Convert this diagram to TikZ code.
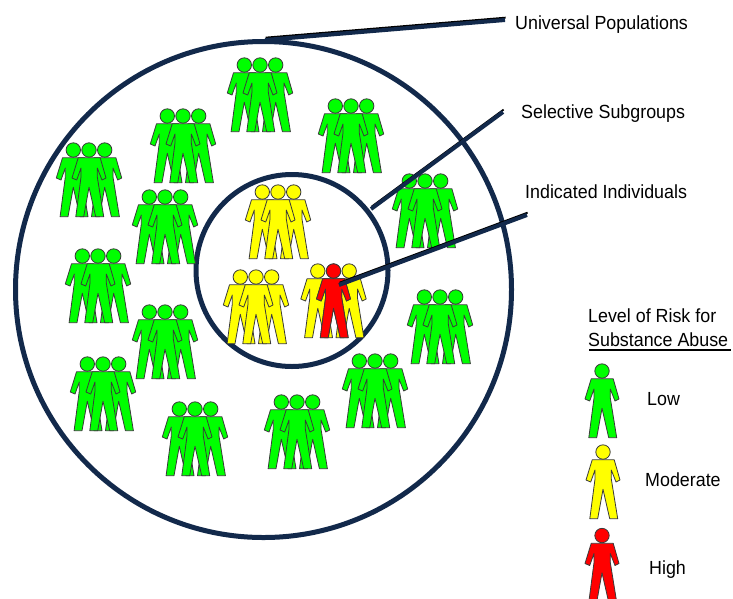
\documentclass[tikz,border=0pt]{standalone}
\usepackage{fontspec}
\setmainfont{Liberation Sans}
\newfontfamily\labelfamily[FakeStretch=0.94]{Liberation Sans}
\definecolor{navy}{HTML}{12294B}
\definecolor{riskgreen}{HTML}{00FF00}
\definecolor{riskyellow}{HTML}{FFFF00}
\definecolor{riskred}{HTML}{FF0000}
\definecolor{figline}{HTML}{3A3A3A}
\tikzset{
  person/.pic={
    \path[draw=figline,line width=0.8pt,fill=#1,line join=round]
      (-10.8,7.8) -- (-17,28) -- (-12.3,30) -- (-8,18) -- (-8,27) -- (-13.2,66.7)
      -- (-5.3,66.7) -- (0,37.3) -- (6.7,66.7) -- (14.7,66.7) -- (8.3,27) -- (8.3,18)
      -- (13,30) -- (17,28) -- (11.2,7.8) -- cycle;
    \path[draw=figline,line width=0.8pt,fill=#1] (0,0) circle[radius=7.2];
  },
  trio/.pic={
    \pic at (-15.7,0) {person=#1};
    \pic at (15.7,0) {person=#1};
    \pic at (0,0) {person=#1};
  },
  ring/.style={draw=navy,line width=5pt,circle,inner sep=0pt,outer sep=0pt},
  leader/.style={draw=navy,line width=4pt},
  leadershade/.style={draw=black,line width=1.8pt,transform canvas={shift={(0.6pt,2.4pt)}}},
  labeltext/.style={font=\labelfamily\fontsize{19}{22}\selectfont,text=black,inner sep=0pt,anchor=base west},
}
\begin{document}
\begin{tikzpicture}[x=1pt,y=-1pt]
\useasboundingbox (0,0) rectangle (733,598);
\node[ring,minimum size=496pt] (outer) at (263.5,289.5) {};
\node[ring,minimum size=192pt] (inner) at (292,270.5) {};
\foreach \px/\py in {260/65,183/116,351/106,425/181,89/150,165/197,98/256,165/312,103/364,195/409,297/402,375/361,440/297}
  \pic at (\px,\py) {trio=riskgreen};
\pic at (278,192) {trio=riskyellow};
\pic at (256,277) {trio=riskyellow};
\pic at (333.5,271) {trio=riskyellow};
\pic at (333.5,271) {person=riskred};
\coordinate (uA) at (265,40);
\coordinate (uB) at (505,20);
\coordinate (sA) at (371,209);
\coordinate (sB) at (503,112);
\coordinate (iA) at (339,285);
\coordinate (iB) at (527,215);
\draw[leadershade] (uA) -- (uB);
\draw[leadershade] (sA) -- (sB);
\draw[leadershade] (iA) -- (iB);
\draw[leader] (uA) -- (uB);
\draw[leader] (sA) -- (sB);
\draw[leader] (iA) -- (iB);
\node[labeltext] (universal) at (515,29) {Universal Populations};
\node[labeltext] (selective) at (521,118) {Selective Subgroups};
\node[labeltext] (indicated) at (525,198) {Indicated Individuals};
\node[labeltext] (risk1) at (588,322.5) {Level of Risk for};
\node[labeltext] (risk2) at (588,346) {Substance Abuse};
\coordinate (ruleA) at (589,350);
\coordinate (ruleB) at (731,350);
\draw[black,line width=2pt] (ruleA) -- (ruleB);
\pic at (602,371) {person=riskgreen};
\pic at (603,452) {person=riskyellow};
\pic at (602,535.5) {person=riskred};
\node[labeltext] (low) at (647,405) {Low};
\node[labeltext] (moderate) at (645,486) {Moderate};
\node[labeltext] (high) at (649,574) {High};
\end{tikzpicture}
\end{document}
